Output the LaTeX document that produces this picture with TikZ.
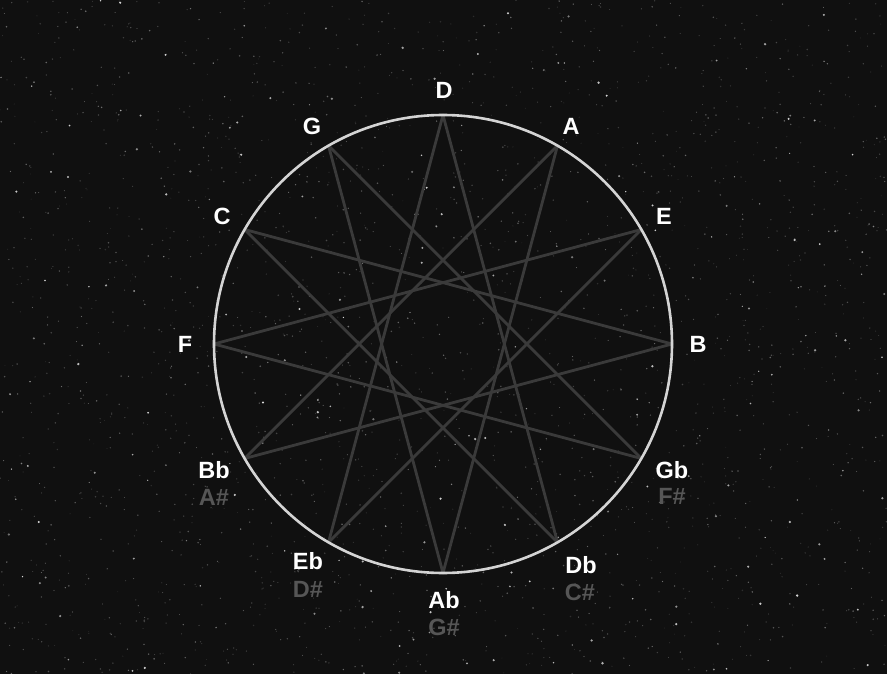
\documentclass[tikz,border=0pt]{standalone}
\usepackage{fontspec}
\setmainfont{Liberation Sans}
\definecolor{bg}{HTML}{101010}
\definecolor{ring}{HTML}{D4D4D4}
\definecolor{starline}{HTML}{3A3A3A}
\definecolor{enh}{HTML}{565656}
\begin{document}
\begin{tikzpicture}[x=1pt,y=-1pt,
  note/.style={text=white,font=\bfseries\fontsize{23.5}{26}\selectfont,inner sep=0pt,anchor=center},
  enhnote/.style={text=enh,font=\bfseries\fontsize{23.5}{26}\selectfont,inner sep=0pt,anchor=center},
  starl/.style={draw=starline,line width=2.8pt,line cap=round}]
\fill[bg] (0,0) rectangle (887,674);
\useasboundingbox (0,0) rectangle (887,674);
% background stars: faint dust
\pgfmathsetseed{12345}
\foreach \k in {1,...,2200}{
  \pgfmathsetmacro\xx{887*rnd}
  \pgfmathsetmacro\yy{674*rnd}
  \pgfmathsetmacro\gg{int(12+28*rnd)}
  \pgfmathsetmacro\rr{0.4+0.5*rnd}
  \fill[white!\gg!bg] (\xx,\yy) circle (\rr pt);
}
% brighter stars
\foreach \k in {1,...,260}{
  \pgfmathsetmacro\xx{887*rnd}
  \pgfmathsetmacro\yy{674*rnd}
  \pgfmathsetmacro\gg{int(40+45*rnd)}
  \pgfmathsetmacro\rr{0.6+0.7*rnd}
  \fill[white!\gg!bg] (\xx,\yy) circle (\rr pt);
}
% points on circle
\foreach \i in {0,...,11}{
  \coordinate (p\i) at ({443+229*cos(90-30*\i)},{344-229*sin(90-30*\i)});
}
% star polygon {12/5}
\foreach \i in {0,...,11}{
  \pgfmathtruncatemacro\j{mod(\i+5,12)}
  \draw[starl] (p\i) -- (p\j);
}
\node[draw=ring,line width=2.6pt,circle,minimum size=458pt,inner sep=0pt] (ring) at (443,344) {};
% labels
\node[note] (lD) at (444,90) {D};
\node[note] (lA) at (571,126) {A};
\node[note] (lE) at (664,216) {E};
\node[note] (lB) at (698,344) {B};
\node[note] (lGb) at (672,470) {Gb};
\node[enhnote] (lFs) at (672,496) {F\#};
\node[note] (lDb) at (581,565) {Db};
\node[enhnote] (lCs) at (580,592) {C\#};
\node[note] (lAb) at (444,600) {Ab};
\node[enhnote] (lGs) at (444,627) {G\#};
\node[note] (lEb) at (308,561) {Eb};
\node[enhnote] (lDs) at (308,589) {D\#};
\node[note] (lBb) at (214,470) {Bb};
\node[enhnote] (lAs) at (214,497) {A\#};
\node[note] (lF) at (185,344) {F};
\node[note] (lC) at (222,216) {C};
\node[note] (lG) at (312,126) {G};
\end{tikzpicture}
\end{document}
